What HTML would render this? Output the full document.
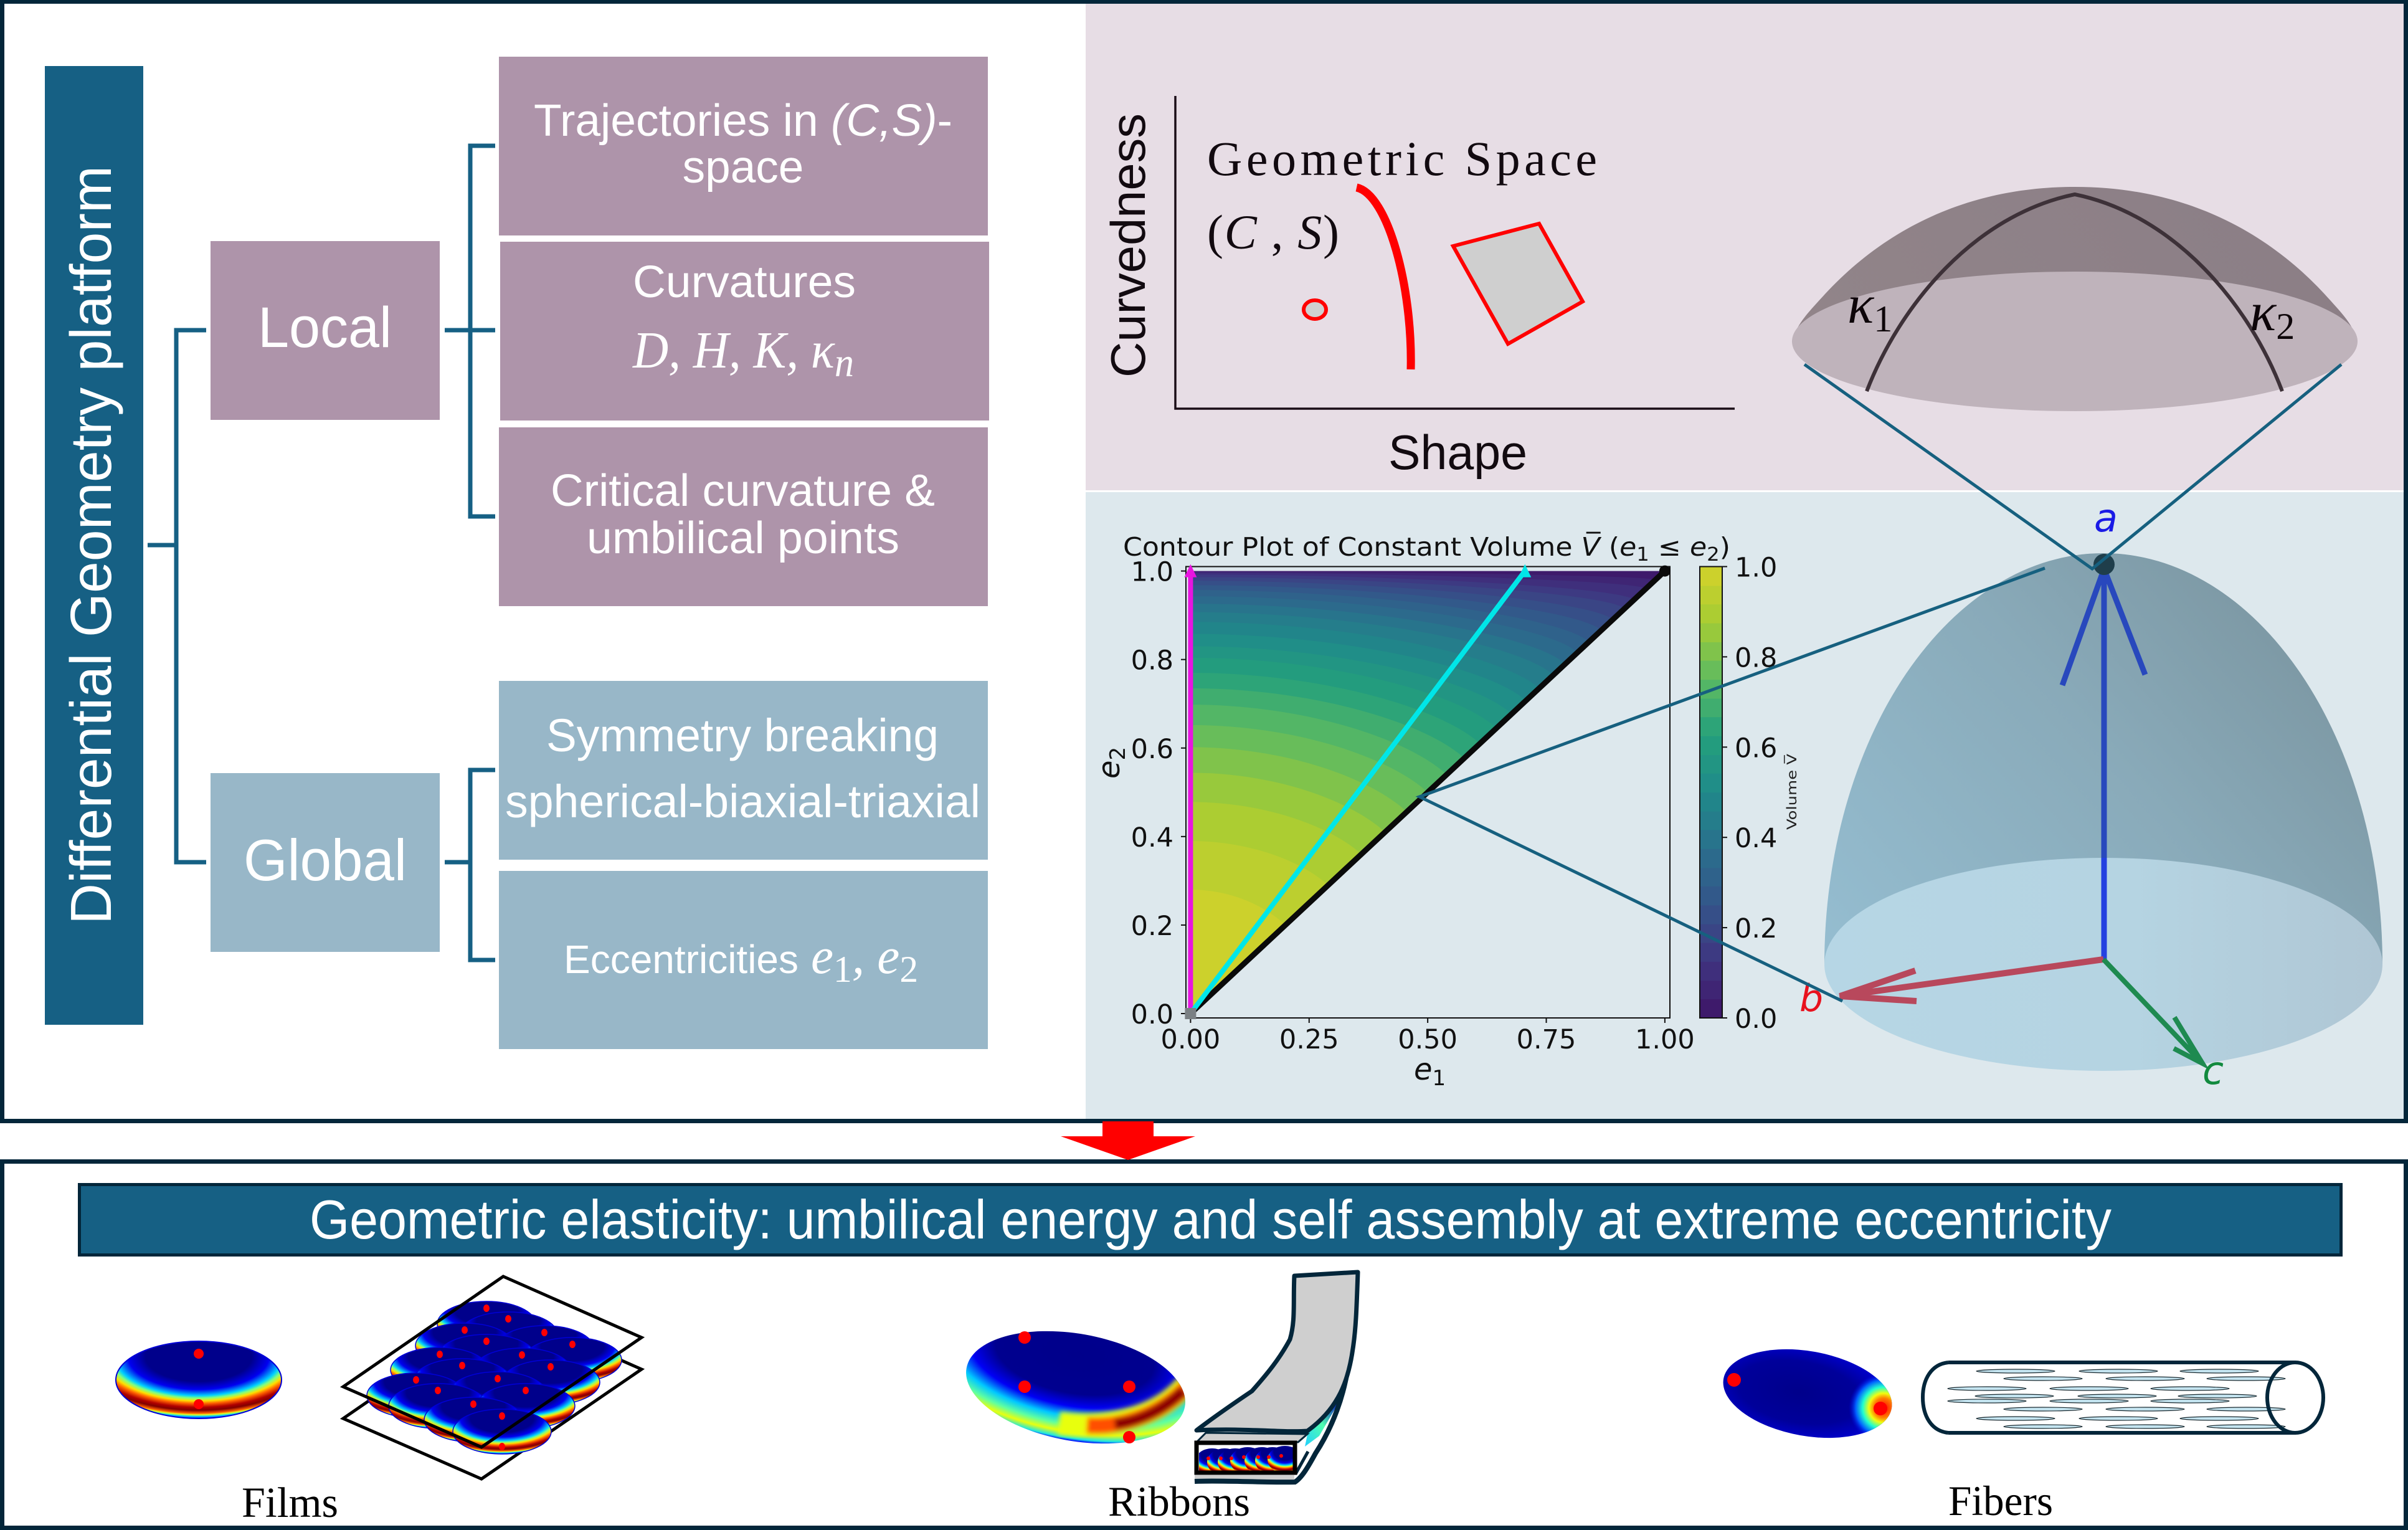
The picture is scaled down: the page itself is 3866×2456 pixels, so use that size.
<!DOCTYPE html>
<html lang="en">
<head>
<meta charset="utf-8">
<title>Differential Geometry platform</title>
<style>
html,body{margin:0;padding:0;background:#fff;width:3866px;height:2456px;overflow:hidden}
svg{display:block}
.sans{font-family:"Liberation Sans",sans-serif}
.serif{font-family:"Liberation Serif",serif}
.dv{font-family:"DejaVu Sans",sans-serif}
.w{fill:#fff}
</style>
</head>
<body>
<svg id="fig" xmlns="http://www.w3.org/2000/svg" width="3866" height="2456" viewBox="0 0 3866 2456">
<defs>
  <linearGradient id="domeTop" x1="0" y1="0.6" x2="1" y2="0.4"><stop offset="0" stop-color="#918489"/><stop offset="1" stop-color="#8b7e86"/></linearGradient>
  <linearGradient id="domeLow" x1="0" y1="0.9" x2="1" y2="0.25"><stop offset="0" stop-color="#94bccf"/><stop offset="0.55" stop-color="#89aab9"/><stop offset="1" stop-color="#7a949f"/></linearGradient>
  <linearGradient id="baseLow" x1="0" y1="0.5" x2="1" y2="0.5"><stop offset="0" stop-color="#b6d6e5"/><stop offset="0.55" stop-color="#b5d4e2"/><stop offset="1" stop-color="#afc6d4"/></linearGradient>
  <radialGradient id="filmJet" cx="0.5" cy="0.2" r="0.8">
    <stop offset="0" stop-color="#00008b"/><stop offset="0.4" stop-color="#00008b"/><stop offset="0.53" stop-color="#0000f0"/>
    <stop offset="0.63" stop-color="#00d0ff"/><stop offset="0.67" stop-color="#80ff80"/><stop offset="0.715" stop-color="#ffe000"/>
    <stop offset="0.76" stop-color="#ff6000"/><stop offset="0.82" stop-color="#b00000"/><stop offset="0.866" stop-color="#800000"/>
    <stop offset="0.916" stop-color="#ff6000"/><stop offset="0.94" stop-color="#e0ff20"/><stop offset="0.966" stop-color="#00d0ff"/><stop offset="1" stop-color="#0000ff"/>
  </radialGradient>
  <radialGradient id="ribbonJet" cx="0.47" cy="0.2" r="0.8">
    <stop offset="0" stop-color="#00008b"/><stop offset="0.45" stop-color="#00008f"/><stop offset="0.6" stop-color="#0000f5"/>
    <stop offset="0.72" stop-color="#00c8ff"/><stop offset="0.82" stop-color="#60ffa0"/><stop offset="0.9" stop-color="#e8ff10"/>
    <stop offset="0.97" stop-color="#20e8e0"/><stop offset="1" stop-color="#0000ff"/>
  </radialGradient>
  <radialGradient id="fiberJet" cx="0.45" cy="0.5" r="0.6">
    <stop offset="0" stop-color="#00008b"/><stop offset="0.6" stop-color="#00009a"/><stop offset="1" stop-color="#0000dc"/>
  </radialGradient>
  <radialGradient id="heatSpot" gradientUnits="userSpaceOnUse" cx="3024" cy="2260" r="56">
    <stop offset="0" stop-color="#ff0000"/><stop offset="0.28" stop-color="#ff8000"/><stop offset="0.42" stop-color="#f0ff10"/>
    <stop offset="0.6" stop-color="#20ffd0"/><stop offset="0.8" stop-color="#0060ff"/><stop offset="1" stop-color="#0000e0" stop-opacity="0"/>
  </radialGradient>
  <linearGradient id="wedgeJet" x1="0" y1="1" x2="1" y2="0"><stop offset="0" stop-color="#20d0ff"/><stop offset="0.5" stop-color="#50ffb0"/><stop offset="1" stop-color="#0000c0"/></linearGradient>
  <filter id="blur6" x="-30%" y="-30%" width="160%" height="160%"><feGaussianBlur stdDeviation="4"/></filter>
  <clipPath id="ribbonClip"><ellipse cx="1727" cy="2227" rx="178" ry="86" transform="rotate(10 1727 2227)"/></clipPath>
  <clipPath id="fiberClip"><ellipse cx="2902" cy="2237" rx="137" ry="68" transform="rotate(10 2902 2237)"/></clipPath>
  <clipPath id="miniClip"><rect x="1925" y="2319" width="151" height="42"/></clipPath>
</defs>

<rect x="0" y="0" width="3866" height="2456" fill="#fff"/>

<!-- Panels -->
<rect x="1743" y="6" width="2116" height="781" fill="#e7dde5"/>
<rect x="1743" y="790" width="2116" height="1006" fill="#dde8ed"/>

<!-- Left tree -->
<g>
  <rect x="72" y="106" width="158" height="1539" fill="#166084"/>
  <text class="sans w" transform="translate(178,1484) rotate(-90)" font-size="93" textLength="1218" lengthAdjust="spacingAndGlyphs">Differential Geometry platform</text>
  <g fill="none" stroke="#166084" stroke-width="7">
    <path d="M237,875H283"/>
    <path d="M331,530H283V1384H331"/>
    <path d="M714,530H795M795,234H755V829H795"/>
    <path d="M714,1384H755M795,1236H755V1541H795"/>
  </g>
  <rect x="338" y="387" width="368" height="287" fill="#ae94aa"/>
  <text class="sans w" x="414" y="557" font-size="92" textLength="215" lengthAdjust="spacingAndGlyphs">Local</text>
  <rect x="338" y="1241" width="368" height="287" fill="#98b7c8"/>
  <text class="sans w" x="391" y="1413" font-size="94" textLength="262" lengthAdjust="spacingAndGlyphs">Global</text>

  <rect x="801" y="91" width="785" height="287" fill="#ae94aa"/>
  <text class="sans w" x="857" y="218" font-size="72" textLength="672" lengthAdjust="spacingAndGlyphs">Trajectories in <tspan font-style="italic">(C,S)</tspan>-</text>
  <text class="sans w" x="1193" y="293" font-size="73" text-anchor="middle">space</text>

  <rect x="803" y="388" width="785" height="287" fill="#ae94aa"/>
  <text class="sans w" x="1016" y="477" font-size="72" textLength="358" lengthAdjust="spacingAndGlyphs">Curvatures</text>
  <text class="serif w" x="1016" y="590" font-size="84" font-style="italic" textLength="355" lengthAdjust="spacingAndGlyphs">D, H, K, κ<tspan font-size="66" dy="14">n</tspan></text>

  <rect x="801" y="686" width="785" height="287" fill="#ae94aa"/>
  <text class="sans w" x="884" y="812" font-size="72" textLength="617" lengthAdjust="spacingAndGlyphs">Critical curvature &amp;</text>
  <text class="sans w" x="942" y="888" font-size="72" textLength="502" lengthAdjust="spacingAndGlyphs">umbilical points</text>

  <rect x="801" y="1093" width="785" height="287" fill="#98b7c8"/>
  <text class="sans w" x="877" y="1206" font-size="74" textLength="630" lengthAdjust="spacingAndGlyphs">Symmetry breaking</text>
  <text class="sans w" x="811" y="1312" font-size="74" textLength="763" lengthAdjust="spacingAndGlyphs">spherical-biaxial-triaxial</text>

  <rect x="801" y="1398" width="785" height="286" fill="#98b7c8"/>
  <text class="sans w" x="905" y="1562" font-size="64" textLength="377" lengthAdjust="spacingAndGlyphs">Eccentricities</text>
  <text class="serif w" x="1302" y="1562" font-size="82" font-style="italic" textLength="172" lengthAdjust="spacingAndGlyphs">e<tspan font-size="60" dy="14" font-style="normal">1</tspan><tspan dy="-14">, e</tspan><tspan font-size="60" dy="14" font-style="normal">2</tspan></text>
</g>

<!-- Geometric space sketch -->
<g>
  <path d="M1887,154V656H2785" fill="none" stroke="#1a0d16" stroke-width="3.5"/>
  <text class="sans" transform="translate(1838,606) rotate(-90)" font-size="78" fill="#120a10" textLength="424" lengthAdjust="spacingAndGlyphs">Curvedness</text>
  <text class="sans" x="2229" y="753" font-size="78" fill="#120a10" textLength="223" lengthAdjust="spacingAndGlyphs">Shape</text>
  <text class="serif" x="1938" y="281" font-size="78" fill="#120a10" textLength="626" lengthAdjust="spacing">Geometric Space</text>
  <text class="serif" x="1938" y="399" font-size="78" fill="#120a10" textLength="212" lengthAdjust="spacing">(<tspan font-style="italic">C</tspan> , <tspan font-style="italic">S</tspan>)</text>
  <path d="M2178,301C2228,312 2268,460 2265,593" fill="none" stroke="#ff0000" stroke-width="13"/>
  <ellipse cx="2111" cy="497" rx="18" ry="15" fill="#d0d0d0" stroke="#ff0000" stroke-width="6"/>
  <polygon points="2333,395 2471,359 2541,484 2421,552" fill="#cfcfcf" stroke="#ff0000" stroke-width="6"/>
</g>

<!-- Upper dome -->
<g>
  <path d="M2877,548C2885,520 2900,505 2930,472C3020,375 3150,300 3331,300C3512,300 3642,375 3732,472C3762,505 3777,520 3785,548Z" fill="url(#domeTop)"/>
  <ellipse cx="3331" cy="548" rx="454" ry="112" fill="#bfb3bb"/>
  <path d="M2997,628C3050,490 3170,345 3331,312C3492,345 3612,490 3664,628" fill="none" stroke="#3d3138" stroke-width="6"/>
  <text class="serif" x="2966" y="518" font-size="88" font-style="italic" fill="#0d0509">κ<tspan font-size="60" dy="14" font-style="normal">1</tspan></text>
  <text class="serif" x="3612" y="530" font-size="88" font-style="italic" fill="#0d0509">κ<tspan font-size="60" dy="14" font-style="normal">2</tspan></text>
</g>

<!-- Lower ellipsoid -->
<g>
  <path d="M2929,1548A448,660 0 0 1 3825,1548Z" fill="url(#domeLow)"/>
  <ellipse cx="3377" cy="1548" rx="448" ry="171" fill="url(#baseLow)"/>
  <path d="M3378,1377V905" stroke="#2848bd" stroke-width="9" fill="none"/>
  <path d="M3378,1540V1377" stroke="#2440e0" stroke-width="9" fill="none"/>
  <path d="M3311,1100L3378,913L3444,1083" stroke="#2848bd" stroke-width="9" fill="none"/>
  <circle cx="3378" cy="906" r="17" fill="#1f3e4b"/>
  <path d="M3377,1540L2954,1599" stroke="#b8485c" stroke-width="10" fill="none"/>
  <path d="M3075,1558L2954,1599L3077,1607" stroke="#b8485c" stroke-width="10" fill="none"/>
  <path d="M3377,1540L3536,1707" stroke="#1e8a50" stroke-width="8" fill="none"/>
  <path d="M3491,1633L3536,1707L3490,1683" stroke="#1e8a50" stroke-width="8" fill="none"/>
  <text class="dv" x="3362" y="853" font-size="62" font-style="italic" fill="#1a1ae6">a</text>
  <text class="dv" x="2889" y="1623" font-size="60" font-style="italic" fill="#e8121e">b</text>
  <text class="dv" x="3536" y="1740" font-size="62" font-style="italic" fill="#118a3e">c</text>
</g>

<!-- Contour chart built by script -->
<g id="chart"></g>
<text class="dv" x="1803" y="892" font-size="41" fill="#111" textLength="975" lengthAdjust="spacingAndGlyphs">Contour Plot of Constant Volume <tspan font-style="italic">V&#x305;</tspan> (<tspan font-style="italic">e</tspan><tspan font-size="30" dy="8">1</tspan><tspan dy="-8"> ≤ </tspan><tspan font-style="italic">e</tspan><tspan font-size="30" dy="8">2</tspan><tspan dy="-8">)</tspan></text>
<text class="dv" x="2270" y="1733" font-size="48" fill="#111"><tspan font-style="italic">e</tspan><tspan font-size="34" dy="9">1</tspan></text>
<text class="dv" transform="translate(1797,1250) rotate(-90)" font-size="48" fill="#111"><tspan font-style="italic">e</tspan><tspan font-size="34" dy="9">2</tspan></text>
<text class="dv" transform="translate(2884,1332) rotate(-90)" font-size="21" fill="#222" textLength="122" lengthAdjust="spacingAndGlyphs">Volume V&#x305;</text>

<!-- Callout lines -->
<g fill="none" stroke="#16607f" stroke-width="5">
  <path d="M3283,912L2279,1279L2958,1607"/>
  <path d="M2897,585L3359,913L3759,585"/>
</g>

<!-- Frames -->
<g fill="#03263a">
  <rect x="0" y="0" width="3866" height="6"/>
  <rect x="0" y="0" width="7" height="1803"/>
  <rect x="3859" y="0" width="7" height="1803"/>
  <rect x="0" y="1796" width="3866" height="7"/>
  <rect x="0" y="1861" width="3866" height="7"/>
  <rect x="0" y="1861" width="7" height="595"/>
  <rect x="3859" y="1861" width="7" height="595"/>
  <rect x="0" y="2449" width="3866" height="7"/>
</g>
<polygon points="1770,1800 1852,1800 1852,1824 1919,1824 1811,1862 1703,1824 1770,1824" fill="#ff0000"/>

<!-- Banner -->
<rect x="127.500" y="1901.500" width="3631" height="113" fill="#166084" stroke="#03263a" stroke-width="5"/>
<text class="sans w" x="497" y="1988" font-size="88" textLength="2893" lengthAdjust="spacingAndGlyphs">Geometric elasticity: umbilical energy and self assembly at extreme eccentricity</text>

<!-- Films -->
<g id="films">
  <ellipse cx="319" cy="2215" rx="133" ry="62" fill="url(#filmJet)" stroke="#0000d8" stroke-width="2"/>
  <circle cx="319" cy="2173" r="8" fill="#ff0000"/>
  <circle cx="319" cy="2254" r="8" fill="#ff0000"/>
  <polygon points="808,2100 1030,2198 773,2374 551,2277" fill="none" stroke="#000" stroke-width="5"/>
  <g id="filmGrid"></g>
  <polygon points="808,2049 1030,2147 773,2323 551,2226" fill="none" stroke="#000" stroke-width="5"/>
  <text class="serif" x="388" y="2435" font-size="69" fill="#000" textLength="155" lengthAdjust="spacingAndGlyphs">Films</text>
</g>

<!-- Ribbons -->
<g>
  <ellipse cx="1727" cy="2227" rx="178" ry="86" fill="url(#ribbonJet)" transform="rotate(10 1727 2227)"/>
  <g clip-path="url(#ribbonClip)" fill="none">
    <g filter="url(#blur6)">
      <path d="M1700,2284C1780,2294 1860,2276 1905,2222" stroke="#e8ff10" stroke-width="36"/>
      <path d="M1745,2288C1800,2292 1865,2270 1905,2226" stroke="#ff5000" stroke-width="26"/>
      <path d="M1790,2286C1830,2282 1870,2262 1900,2232" stroke="#8a0000" stroke-width="17"/>
    </g>
  </g>
  <circle cx="1645" cy="2147" r="10" fill="#ff0000"/>
  <circle cx="1645" cy="2226" r="10" fill="#ff0000"/>
  <circle cx="1813" cy="2226" r="10" fill="#ff0000"/>
  <circle cx="1813" cy="2307" r="10" fill="#ff0000"/>

  <polygon points="2143,2253 2150,2250 2118,2305 2095,2322 2100,2298" fill="url(#wedgeJet)"/>
  <path d="M1918,2368H2078V2378H1918Z" fill="#cfcfcf"/>
  <path d="M2165,2190C2158,2240 2140,2290 2112,2333C2100,2355 2090,2372 2079,2379C2030,2380 1960,2376 1918,2378" fill="none" stroke="#03263a" stroke-width="8"/>
  <path d="M2080,2366L2100,2330" fill="none" stroke="#03263a" stroke-width="5"/>
  <polygon points="1936,2300 2099,2302 2084,2315 1921,2315" fill="#cfcfcf" stroke="#03263a" stroke-width="3"/>
  <path d="M2078,2048L2180,2042C2178,2100 2177,2133 2172,2165C2165,2215 2150,2260 2099,2297C2060,2300 2000,2292 1921,2296C1955,2270 1985,2250 2010,2233C2035,2205 2055,2180 2071,2150C2080,2120 2076,2090 2078,2048Z" fill="#cfcfcf" stroke="#03263a" stroke-width="7" stroke-linejoin="round"/>
  <g id="ribbonMini" clip-path="url(#miniClip)"></g>
  <rect x="1921" y="2316" width="158" height="48" fill="none" stroke="#000" stroke-width="7"/>
  <text class="serif" x="1779" y="2433" font-size="68" fill="#000" textLength="228" lengthAdjust="spacingAndGlyphs">Ribbons</text>
</g>

<!-- Fibers -->
<g>
  <ellipse cx="2902" cy="2237" rx="137" ry="68" fill="url(#fiberJet)" transform="rotate(10 2902 2237)"/>
  <g clip-path="url(#fiberClip)"><rect x="2950" y="2190" width="100" height="130" fill="url(#heatSpot)"/></g>
  <circle cx="2784" cy="2215" r="11" fill="#ff0000"/>
  <circle cx="3019" cy="2261" r="11" fill="#ff0000"/>
  <path d="M3128,2187H3686M3128,2300H3686M3128,2187C3100,2190 3087,2215 3087,2243C3087,2272 3100,2297 3128,2300" fill="none" stroke="#03263a" stroke-width="6"/>
  <g id="fiberRods"></g>
  <ellipse cx="3685" cy="2243.500" rx="45" ry="56.500" fill="none" stroke="#03263a" stroke-width="6"/>
  <text class="serif" x="3128" y="2432" font-size="68" fill="#000" textLength="168" lengthAdjust="spacingAndGlyphs">Fibers</text>
</g>

<script>
// ---- Contour chart data ----
const volumeLevels = [0,0.042,0.083,0.125,0.167,0.208,0.25,0.292,0.333,0.375,0.417,0.458,0.5,0.542,0.583,0.625,0.667,0.708,0.75,0.792,0.833,0.875,0.917,0.958,1];
// e2 where each inner level (index 1..23) meets the e1=0 edge
const levelAxisCrossing = [0.999,0.9965,0.992,0.986,0.978,0.968,0.957,0.943,0.926,0.907,0.885,0.858,0.83,0.804,0.77,0.735,0.698,0.652,0.602,0.544,0.478,0.39,0.28];
// e1=e2 where each inner level (index 1..23) meets the diagonal
const levelDiagonalCrossing = [0.98,0.96,0.935,0.915,0.89,0.866,0.84,0.816,0.79,0.765,0.735,0.707,0.677,0.645,0.61,0.577,0.54,0.5,0.456,0.41,0.36,0.29,0.2];
const xTickValues = [0,0.25,0.5,0.75,1];
const xTickLabels = ['0.00','0.25','0.50','0.75','1.00'];
const yTickValues = [0,0.2,0.4,0.6,0.8,1];
const yTickLabels = ['0.0','0.2','0.4','0.6','0.8','1.0'];
const colorbarTickValues = [0,0.2,0.4,0.6,0.8,1];
const colorbarTickLabels = ['0.0','0.2','0.4','0.6','0.8','1.0'];
const magentaPathE1 = [0,0];
const magentaPathE2 = [0,1];
const cyanPathE1 = [0,0.705];
const cyanPathE2 = [0,1];
const blackPathE1 = [0,1];
const blackPathE2 = [0,1];
const colorRampValues = [0,0.125,0.25,0.375,0.5,0.625,0.75,0.875,1];
const colorRampRGB = [[62,20,103],[63,53,128],[52,84,138],[42,111,140],[31,138,138],[36,160,124],[92,186,98],[164,204,52],[212,210,42]];

// Film assembly data
const filmDotX = [781,816,746,874,781,919,706,838,742,884,668,799,703,844,760,806];
const filmDotY = [2100,2117,2135,2139,2153,2158,2174,2175,2192,2194,2215,2213,2232,2232,2254,2273];
const ribbonDotX = [1940,1960,1977,1997,2020,2037,2057];
const ribbonDotY = [2341,2341,2341,2339,2339,2339,2337];
const rodRowY = [2201,2213,2229,2241,2249,2262,2277,2290];
const rodRowX = [[3173,3338,3500],[3217,3381,3543],[3127,3291,3453],[3171,3336,3497],[3127,3291,3453],[3217,3381,3543],[3173,3338,3500],[3217,3381,3543]];

const NS = 'http://www.w3.org/2000/svg';
function mk(tag, parent, attrs){
  const el = document.createElementNS(NS, tag);
  for (const k in attrs) el.setAttribute(k, attrs[k]);
  parent.appendChild(el);
  return el;
}
const chart = document.getElementById('chart');
const X = e => 1911.4 + 761.5 * e;
const Y = e => 1627 - 710.4 * e;
const CB = v => 1634 - 724.5 * v;

function ramp(v){
  let i = 0;
  while (i < colorRampValues.length - 2 && v > colorRampValues[i + 1]) i++;
  const t = (v - colorRampValues[i]) / (colorRampValues[i + 1] - colorRampValues[i]);
  const c = colorRampRGB[i].map((a, j) => Math.round(a + (colorRampRGB[i + 1][j] - a) * t));
  return 'rgb(' + c.join(',') + ')';
}
function regionPath(a, d){
  const t = (a - d) * 0.5;
  return 'M' + X(0) + ',' + Y(0) + 'L' + X(0) + ',' + Y(a) +
    'C' + X(d * 0.45) + ',' + Y(a) + ' ' + X(d - t) + ',' + Y(d + t) + ' ' + X(d) + ',' + Y(d) + 'Z';
}

// filled contour bands, painted from outermost to innermost
for (let i = 0; i < volumeLevels.length - 1; i++) {
  const mid = (volumeLevels[i] + volumeLevels[i + 1]) / 2;
  const d = i === 0
    ? 'M' + X(0) + ',' + Y(0) + 'L' + X(0) + ',' + Y(1) + 'L' + X(1) + ',' + Y(1) + 'Z'
    : regionPath(levelAxisCrossing[i - 1], levelDiagonalCrossing[i - 1]);
  const band = mk('path', chart, {d: d, fill: ramp(mid)});
  
  
}

// plot frame
const frame = mk('rect', chart, {x: 1904, y: 909.5, width: 777, height: 724.5, fill: 'none', stroke: '#111', 'stroke-width': 2});



// ticks and tick labels
xTickValues.forEach((v, i) => {
  const tick = mk('line', chart, {x1: X(v), x2: X(v), y1: 1634, y2: 1642, stroke: '#111', 'stroke-width': 2});
  
  
  const lab = mk('text', chart, {x: X(v), y: 1683, 'text-anchor': 'middle', 'font-size': 43, class: 'dv', fill: '#111'});
  lab.textContent = xTickLabels[i];
  
  
});
yTickValues.forEach((v, i) => {
  const tick = mk('line', chart, {x1: 1896, x2: 1904, y1: Y(v), y2: Y(v), stroke: '#111', 'stroke-width': 2});
  
  
  const lab = mk('text', chart, {x: 1884, y: Y(v) + 16, 'text-anchor': 'end', 'font-size': 43, class: 'dv', fill: '#111'});
  lab.textContent = yTickLabels[i];
  
  
});

// series lines
function seriesLine(xs, ys, color, width, name){
  const pts = xs.map((x, i) => X(x) + ',' + Y(ys[i])).join(' ');
  const ln = mk('polyline', chart, {points: pts, fill: 'none', stroke: color, 'stroke-width': width});
  
  
}
function triangleMarker(e1, e2, color, name){
  const cx = X(e1), cy = Y(e2);
  const tri = mk('polygon', chart, {points: cx + ',' + (cy - 11) + ' ' + (cx - 10) + ',' + (cy + 10) + ' ' + (cx + 10) + ',' + (cy + 10), fill: color});
  
  
}
seriesLine(blackPathE1, blackPathE2, '#0a0a0a', 9, 'biaxial-line');
seriesLine(magentaPathE1, magentaPathE2, '#e815e0', 8, 'uniaxial-line');
seriesLine(cyanPathE1, cyanPathE2, '#00e6e8', 8, 'triaxial-line');
triangleMarker(magentaPathE1[1], magentaPathE2[1], '#e815e0', 'uniaxial-marker');
triangleMarker(cyanPathE1[1], cyanPathE2[1], '#00e6e8', 'triaxial-marker');
const endDot = mk('circle', chart, {cx: X(blackPathE1[1]), cy: Y(blackPathE2[1]), r: 9, fill: '#0a0a0a'});


const startSq = mk('rect', chart, {x: X(0) - 9, y: Y(0) - 9, width: 18, height: 18, fill: '#7a8084'});



// colorbar
for (let i = 0; i < volumeLevels.length - 1; i++) {
  const lo = volumeLevels[i], hi = volumeLevels[i + 1];
  const seg = mk('rect', chart, {x: 2729, y: CB(hi), width: 36, height: CB(lo) - CB(hi) + 0.5, fill: ramp((lo + hi) / 2)});
  
  
}
const cbFrame = mk('rect', chart, {x: 2729, y: 909.5, width: 36, height: 724.5, fill: 'none', stroke: '#111', 'stroke-width': 2});


colorbarTickValues.forEach((v, i) => {
  const tick = mk('line', chart, {x1: 2765, x2: 2773, y1: CB(v), y2: CB(v), stroke: '#111', 'stroke-width': 2});
  
  
  const lab = mk('text', chart, {x: 2785, y: CB(v) + 16, 'font-size': 43, class: 'dv', fill: '#111'});
  lab.textContent = colorbarTickLabels[i];
  
  
});

// film assembly ellipsoids, back to front
const filmGrid = document.getElementById('filmGrid');
filmDotX.forEach((x, i) => {
  const e = mk('ellipse', filmGrid, {cx: x, cy: filmDotY[i] + 25, rx: 79, ry: 36, fill: 'url(#filmJet)', stroke: '#0000d8', 'stroke-width': 1.5});
  
  
  const p = mk('ellipse', filmGrid, {cx: x, cy: filmDotY[i], rx: 5, ry: 6, fill: '#ff0000'});
  
  
});
const lastDot = mk('ellipse', filmGrid, {cx: 806, cy: 2322, rx: 5, ry: 6, fill: '#ff0000'});



// ribbon confined ellipsoids
const mini = document.getElementById('ribbonMini');
const miniBack = mk('rect', mini, {x: 1921, y: 2316, width: 158, height: 48, fill: '#fff'});


ribbonDotX.forEach((x, i) => {
  const e = mk('ellipse', mini, {cx: x + 6, cy: ribbonDotY[i] + 6, rx: 28, ry: 22, fill: 'url(#filmJet)'});
  
  
});
ribbonDotX.forEach((x, i) => {
  const p = mk('circle', mini, {cx: x, cy: ribbonDotY[i], r: 3, fill: '#ff0000'});
  
  
});

// fiber rods
const rods = document.getElementById('fiberRods');
rodRowY.forEach((y, r) => {
  rodRowX[r].forEach(x => {
    const rod = mk('ellipse', rods, {cx: x + 63, cy: y, rx: 63, ry: 3, fill: '#c4e4f0', stroke: '#1a2a30', 'stroke-width': 1.2});
    
    
  });
});
</script>
</svg>
</body>
</html>
